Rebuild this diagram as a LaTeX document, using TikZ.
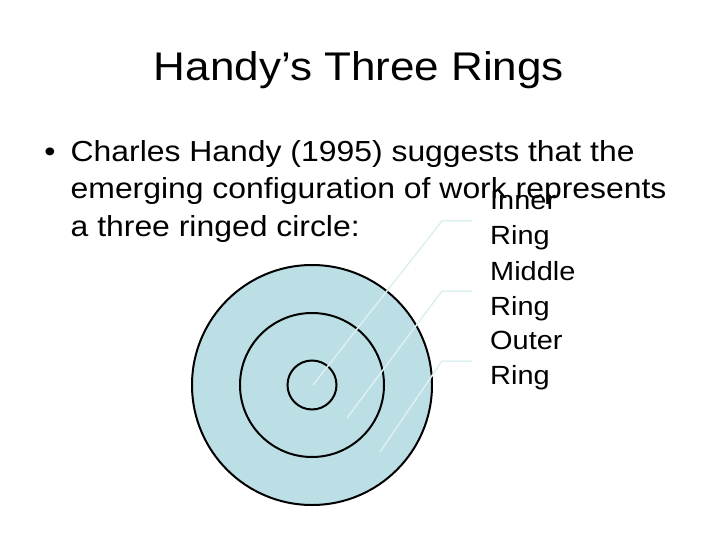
\documentclass[tikz,border=0pt]{standalone}
\usepackage{fontspec}
\setmainfont{Liberation Sans}[FakeStretch=1.1]
\usetikzlibrary{calc}
\definecolor{ringfill}{RGB}{187,223,228}
\definecolor{leadcol}{RGB}{222,239,242}
\tikzset{ring/.style={draw=black,line width=2pt},
  leader/.style={draw=leadcol,line width=1.5pt},
  bodytext/.style={anchor=base west,inner sep=0pt,font=\fontsize{29}{34}\selectfont},
  lbl/.style={anchor=west,align=left,inner xsep=18pt,font=\fontsize{26.3}{35}\selectfont}}

\begin{document}
\begin{tikzpicture}[x=1pt,y=-1pt]
\useasboundingbox (0,0) rectangle (720,540);
\node[anchor=base,font=\fontsize{40}{48}\selectfont] (title) at (359,80.7) {Handy’s Three Rings};
\node[bodytext,anchor=base] (dot) at (50,161.7) {•};
\node[bodytext] (l1) at (70.5,161.7) {Charles Handy (1995) suggests that the};
\node[bodytext] (l2) at (70.5,199) {emerging configuration of work represents};
\node[bodytext] (l3) at (70.5,236.5) {a three ringed circle:};
% the rings
\coordinate (O) at (312,385);
\fill[ringfill] (O) circle (120);
\foreach \r in {120,72,24.5} \draw[ring] (O) circle (\r);
% labels and leader lines
\foreach \name/\sx/\sy/\ly/\txt in {inner/313/385/221/Inner,middle/347/418/291/Middle,outer/380/452/361/Outer} {
  \node[lbl] (\name) at (472,\ly) {\txt\\Ring};
  \coordinate (\name s) at (\sx,\sy);
  \draw[leader] (\name s) -- ($(\name.west)+(-30,0)$) -- (\name.west);
}
\end{tikzpicture}
\end{document}
